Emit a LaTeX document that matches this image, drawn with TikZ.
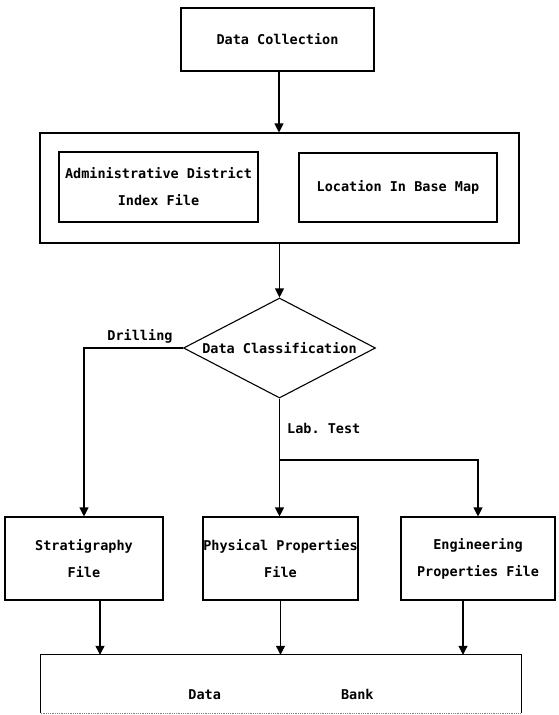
\documentclass[tikz,border=0pt]{standalone}
\usepackage{fontspec}
\setmonofont{DejaVu Sans Mono}
\usetikzlibrary{arrows.meta,shapes.geometric}
\tikzset{
  boxed/.style={draw, line width=1.1pt, inner sep=0pt, align=center},
  flow/.style={line width=1.1pt, -{Triangle[width=9pt,length=9pt]}},
  plain/.style={line width=1.1pt},
  lbl/.style={inner sep=0pt},
}
\begin{document}
\begin{tikzpicture}[x=1pt,y=-1pt,
  font=\ttfamily\bfseries\fontsize{13.5}{27}\selectfont]
\useasboundingbox (0,0) rectangle (558,715);

% top: collection and index
\node[boxed, minimum width=193pt, minimum height=63pt] (dc) at (277.5,39.5) {Data Collection};
\node[boxed, minimum width=479pt, minimum height=110pt] (idx) at (279.5,188) {};
\node[boxed, minimum width=199pt, minimum height=70pt] (adm) at (158.5,187)
  {Administrative District\\Index File};
\node[boxed, minimum width=198pt, minimum height=69pt] (loc) at (398,187.5)
  {Location In Base Map};

% classification
\node[draw, line width=1.1pt, diamond, aspect=1.92, inner sep=0pt,
      minimum width=192pt, minimum height=100pt] (cls) at (279.5,348) {Data Classification};

% files
\node[boxed, minimum width=158pt, minimum height=83pt] (str) at (84,558.5) {Stratigraphy\\File};
\node[boxed, minimum width=155pt, minimum height=83pt] (phy) at (280.5,558.5) {Physical Properties\\File};
\node[boxed, minimum width=154pt, minimum height=83pt] (eng) at (478,558.5) {Engineering\\Properties File};

% data bank: solid top and sides, faint bottom edge
\node[minimum width=480pt, minimum height=58pt, inner sep=0pt] (bank) at (281,684) {};
\draw[plain] (bank.south west) -- (bank.north west) -- (bank.north east) -- (bank.south east);
\draw[line width=0.8pt, densely dotted, gray] (bank.south west) -- (bank.south east);
\node[lbl] (bankt) at ([yshift=-10pt]bank.center) {Data\hspace{120pt}Bank};

% connectors
\draw[flow] ([xshift=1.5pt]dc.south) -- ([xshift=1.5pt]dc.south |- idx.north);
\draw[flow] (idx.south) -- (cls.north);
\draw[flow] (cls.west) -| (str.north);
\node[lbl] (drill) at (140,336) {Drilling};
\draw[flow] (cls.south) -- (cls.south |- phy.north);
\coordinate (split) at (279.5,460);
\draw[flow] (split) -| (eng.north);
\node[lbl, anchor=west] (lab) at (287,428) {Lab. Test};

\draw[flow] ([xshift=16pt]str.south) -- ([xshift=16pt]str.south |- bank.north);
\draw[flow] (phy.south) -- (phy.south |- bank.north);
\draw[flow] ([xshift=-15pt]eng.south) -- ([xshift=-15pt]eng.south |- bank.north);
\end{tikzpicture}
\end{document}
